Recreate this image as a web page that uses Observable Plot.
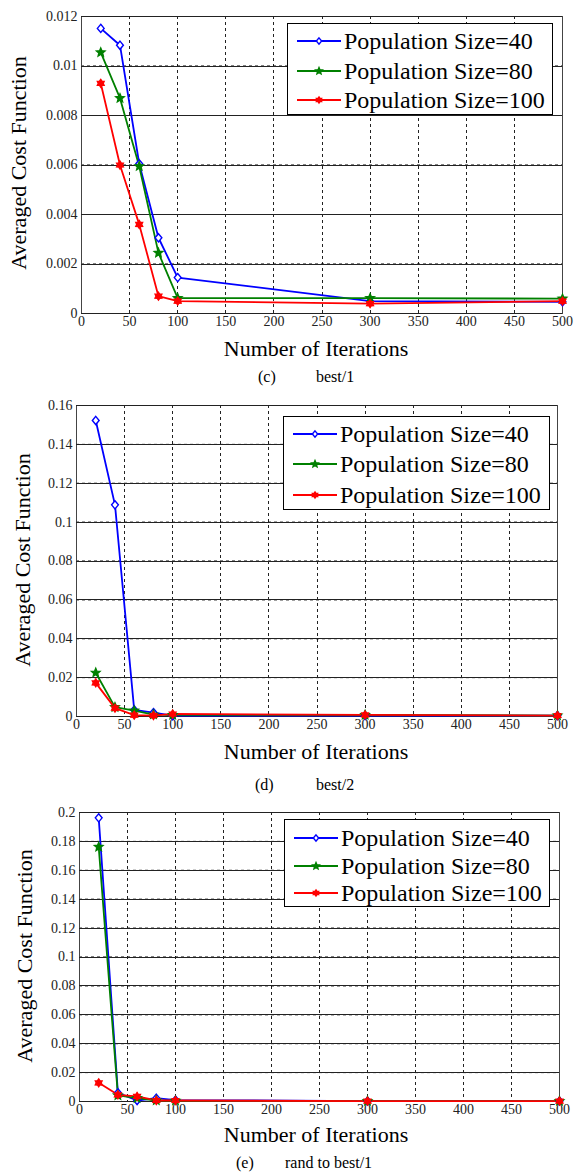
<!DOCTYPE html>
<html>
<head>
<meta charset="utf-8">
<script src="https://cdn.jsdelivr.net/npm/d3@7"></script>
<script src="https://cdn.jsdelivr.net/npm/@observablehq/plot@0.6"></script>
<style>
  html, body { margin: 0; padding: 0; background: #fff; }
  #page { position: relative; width: 574px; height: 1176px; overflow: hidden; font-family: "Liberation Serif", "Times New Roman", serif; color: #000; }
  .panel { position: absolute; left: 0; }
  .lbl { position: absolute; white-space: nowrap; font-size: 22px; line-height: 1; }
  .ylbl { position: absolute; white-space: nowrap; font-size: 22px; line-height: 1; transform: translate(-50%, -50%) rotate(-90deg); }
  .cap { position: absolute; white-space: nowrap; font-size: 16px; line-height: 1; }
  .legend { position: absolute; background: #fff; border: 1px solid #000; box-sizing: border-box; }
  .legend .row { position: absolute; left: 0; height: 24px; }
  .legend .row span { position: absolute; top: 0; font-size: 24px; line-height: 24px; white-space: nowrap; }
</style>
</head>
<body>
<div id="page"></div>
<script>
// ---------- data ----------
const iterations = [20, 40, 60, 80, 100, 300, 500];
const seriesNames = ["Population Size=40", "Population Size=80", "Population Size=100"];
const seriesColors = ["#0000ff", "#008000", "#ff0000"];

// (c) best/1
const best1_pop40  = [0.01152, 0.01084, 0.00605, 0.00306, 0.00145, 0.00050, 0.00047];
const best1_pop80  = [0.01055, 0.00870, 0.00595, 0.00245, 0.00062, 0.00062, 0.00060];
const best1_pop100 = [0.00930, 0.00600, 0.00360, 0.00070, 0.00050, 0.00040, 0.00050];

// (d) best/2
const best2_pop40  = [0.1523, 0.1089, 0.0034, 0.0020, 0.0004, 0.0005, 0.0005];
const best2_pop80  = [0.0225, 0.0048, 0.0030, 0.0010, 0.0008, 0.0008, 0.0005];
const best2_pop100 = [0.0173, 0.0043, 0.0007, 0.0005, 0.0013, 0.0008, 0.0005];

// (e) rand to best/1
const rtb1_pop40  = [0.1963, 0.0060, 0.0007, 0.0023, 0.0010, 0.0003, 0.0003];
const rtb1_pop80  = [0.1762, 0.0042, 0.0023, 0.0007, 0.0005, 0.0003, 0.0003];
const rtb1_pop100 = [0.0129, 0.0046, 0.0035, 0.0007, 0.0007, 0.0003, 0.0003];

const xTicks = [0, 50, 100, 150, 200, 250, 300, 350, 400, 450, 500];
const yTicksC = [0, 0.002, 0.004, 0.006, 0.008, 0.01, 0.012];
const yTicksD = [0, 0.02, 0.04, 0.06, 0.08, 0.1, 0.12, 0.14, 0.16];
const yTicksE = [0, 0.02, 0.04, 0.06, 0.08, 0.1, 0.12, 0.14, 0.16, 0.18, 0.2];

const xLabel = "Number of Iterations";
const yLabel = "Averaged Cost Function";
const captionTags = ["(c)", "(d)", "(e)"];
const captionNames = ["best/1", "best/2", "rand to best/1"];

// ---------- marker symbols ----------
const diamondSym = { draw(ctx, size) { const r = Math.sqrt(size / Math.PI); ctx.moveTo(0, -1.2*r); ctx.lineTo(r, 0); ctx.lineTo(0, 1.2*r); ctx.lineTo(-r, 0); ctx.closePath(); } };
const pentagramSym = { draw(ctx, size) { const R = Math.sqrt(size / Math.PI) * 1.3, ri = R * 0.45; for (let i = 0; i < 10; i++) { const a = -Math.PI/2 + i*Math.PI/5; const rr = i % 2 ? ri : R; const x = rr*Math.cos(a), y = rr*Math.sin(a); i ? ctx.lineTo(x, y) : ctx.moveTo(x, y); } ctx.closePath(); } };
const hexagramSym = { draw(ctx, size) { const R = Math.sqrt(size / Math.PI) * 1.15, ri = R * 0.62; for (let i = 0; i < 12; i++) { const a = -Math.PI/2 + i*Math.PI/6; const rr = i % 2 ? ri : R; const x = rr*Math.cos(a), y = rr*Math.sin(a); i ? ctx.lineTo(x, y) : ctx.moveTo(x, y); } ctx.closePath(); } };
const symbols = [diamondSym, pentagramSym, hexagramSym];
const fills = ["#ffffff", "#008000", "#ff0000"];

// ---------- layout ----------
const panels = [
  { values: [best1_pop40, best1_pop80, best1_pop100], yTicks: yTicksC, ymax: 0.012,
    top: 0, height: 337, fl: 81, fr: 562, ft: 16, fb: 313,
    ylx: 19, yly: 163, xly: 338, capy: 369, tagx: 258, namex: 316,
    leg: { l: 287, t: 23, w: 266, h: 92, rows: [17, 47, 76] } },
  { values: [best2_pop40, best2_pop80, best2_pop100], yTicks: yTicksD, ymax: 0.16,
    top: 390, height: 350, fl: 76, fr: 557, ft: 405, fb: 716,
    ylx: 23, yly: 560, xly: 741, capy: 777, tagx: 255, namex: 316,
    leg: { l: 283, t: 416, w: 267, h: 94, rows: [17, 47, 78] } },
  { values: [rtb1_pop40, rtb1_pop80, rtb1_pop100], yTicks: yTicksE, ymax: 0.2,
    top: 795, height: 330, fl: 79, fr: 559, ft: 812, fb: 1101,
    ylx: 25, yly: 956, xly: 1124, capy: 1155, tagx: 236, namex: 285,
    leg: { l: 284, t: 819, w: 266, h: 88, rows: [18, 46, 73] } }
];

const page = document.getElementById("page");
const fmt = d3.format("~g");
const gridStyleX = { stroke: "#222", strokeOpacity: 1, strokeWidth: 1, strokeDasharray: "3,3", shapeRendering: "crispEdges" };
const gridStyleY = { stroke: "#000", strokeOpacity: 1, strokeWidth: 1, strokeDasharray: "3,3" };

panels.forEach((p, pi) => {
  const marks = [
    Plot.gridX(xTicks, gridStyleX),
    Plot.gridY(p.yTicks, gridStyleY),
    Plot.frame({ stroke: "#444", strokeWidth: 1, shapeRendering: "crispEdges" }),
    Plot.axisX(xTicks, { tickSize: 0, tickPadding: 3, tickFormat: d => String(d), label: null, fill: "#222" }),
    Plot.axisY(p.yTicks, { tickSize: 0, tickPadding: 4, tickFormat: fmt, label: null, fill: "#222" }),
    Plot.tickY(p.yTicks, { stroke: "#222", strokeWidth: 1, x1: 500, x2: 492, shapeRendering: "crispEdges" })
  ];
  p.values.forEach((vals, si) => {
    const data = iterations.map((it, i) => ({ it, v: vals[i] }));
    marks.push(Plot.line(data, { x: "it", y: "v", stroke: seriesColors[si], strokeWidth: 1.8 }));
  });
  p.values.forEach((vals, si) => {
    const data = iterations.map((it, i) => ({ it, v: vals[i] }));
    marks.push(Plot.dot(data, { x: "it", y: "v", symbol: symbols[si], r: 3.4, stroke: seriesColors[si], fill: fills[si], strokeWidth: 1.4 }));
  });
  const chart = Plot.plot({
    width: 574,
    height: p.height,
    marginLeft: p.fl,
    marginRight: 574 - p.fr,
    marginTop: p.ft - p.top,
    marginBottom: p.height - (p.fb - p.top),
    x: { domain: [0, 500], label: null },
    y: { domain: [0, p.ymax], label: null },
    style: { fontFamily: "Liberation Serif, Times New Roman, serif", fontSize: "14px", color: "#000", background: "transparent" },
    marks
  });
  const wrap = document.createElement("div");
  wrap.className = "panel";
  wrap.style.top = p.top + "px";
  wrap.appendChild(chart);
  page.appendChild(wrap);

  // y label
  const yl = document.createElement("div");
  yl.className = "ylbl"; yl.textContent = yLabel;
  yl.style.left = p.ylx + "px"; yl.style.top = p.yly + "px";
  page.appendChild(yl);
  // x label
  const xl = document.createElement("div");
  xl.className = "lbl"; xl.textContent = xLabel;
  xl.style.left = "316px"; xl.style.top = p.xly + "px"; xl.style.transform = "translateX(-50%)";
  page.appendChild(xl);
  // caption
  const c1 = document.createElement("div");
  c1.className = "cap"; c1.textContent = captionTags[pi];
  c1.style.left = p.tagx + "px"; c1.style.top = p.capy + "px";
  page.appendChild(c1);
  const c2 = document.createElement("div");
  c2.className = "cap"; c2.textContent = captionNames[pi];
  c2.style.left = p.namex + "px"; c2.style.top = p.capy + "px";
  page.appendChild(c2);

  // legend
  const L = p.leg;
  const lg = document.createElement("div");
  lg.className = "legend";
  Object.assign(lg.style, { left: L.l + "px", top: L.t + "px", width: L.w + "px", height: L.h + "px" });
  seriesNames.forEach((name, si) => {
    const row = document.createElement("div");
    row.className = "row";
    row.style.top = (L.rows[si] - 12) + "px";
    row.style.width = "100%";
    const svg = d3.create("svg").attr("width", 56).attr("height", 24).style("position", "absolute").style("left", "0px").style("top", "0px");
    svg.append("line").attr("x1", 9).attr("x2", 53).attr("y1", 12).attr("y2", 12).attr("stroke", seriesColors[si]).attr("stroke-width", 1.8);
    const path = d3.path();
    symbols[si].draw(path, Math.PI * 7);
    svg.append("path").attr("d", path.toString()).attr("transform", "translate(31,12)").attr("stroke", seriesColors[si]).attr("fill", fills[si]).attr("stroke-width", 1.4);
    row.appendChild(svg.node());
    const sp = document.createElement("span");
    sp.textContent = name; sp.style.left = "56px";
    row.appendChild(sp);
    lg.appendChild(row);
  });
  page.appendChild(lg);
});
</script>
</body>
</html>
